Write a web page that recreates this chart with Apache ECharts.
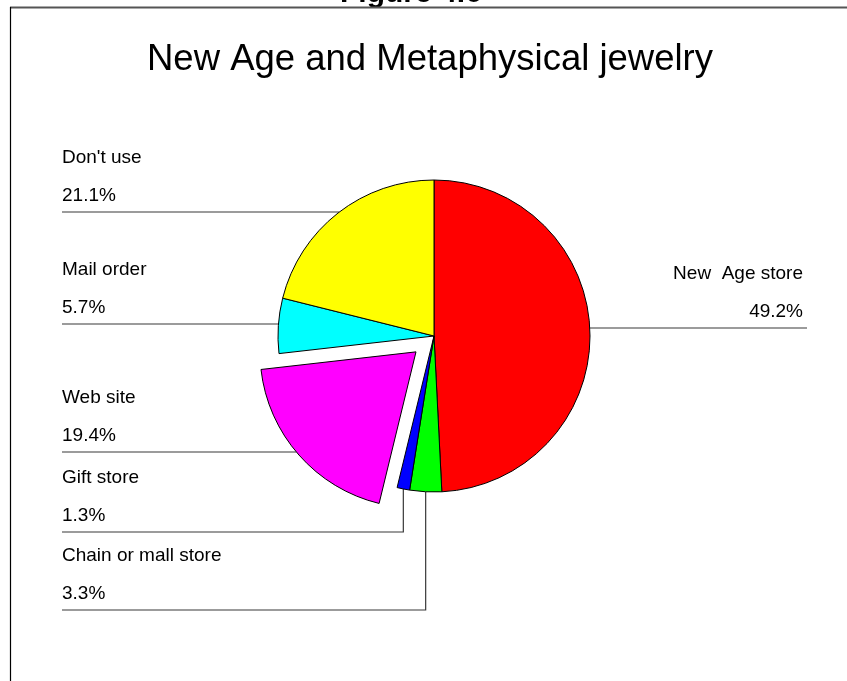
<!DOCTYPE html>
<html>
<head>
<meta charset="utf-8">
<script src="https://cdn.jsdelivr.net/npm/echarts@6/dist/echarts.min.js"></script>
<style>
  html, body { margin: 0; padding: 0; background: #ffffff; }
  #chart { width: 847px; height: 681px; }
</style>
</head>
<body>
<div id="chart"></div>
<script>
// Purchase channels, clockwise from 12 o'clock
const categories = ['New  Age store', 'Chain or mall store', 'Gift store', 'Web site', 'Mail order', "Don't use"];
const shares = [49.2, 3.3, 1.3, 19.4, 5.7, 21.1];
const sliceColors = ['#ff0000', '#00ff00', '#0000ff', '#ff00ff', '#00ffff', '#ffff00'];
const explodedName = 'Web site';

const figureCaption = 'Figure 4.6';
const chartTitle = 'New Age and Metaphysical jewelry';

// Pie geometry and label placement
const CX = 434, CY = 336, R = 156, EXPLODE = 24;
const LABEL_LEFT = 62, LABEL_RIGHT = 803, LINE_RIGHT = 807;
const FONT = '"Liberation Sans", Arial, Helvetica, sans-serif';

// underline height of each label and how its leader reaches the slice
const labelSpec = {
  'New  Age store':      { lineY: 328, side: 'right' },
  'Chain or mall store': { lineY: 610, side: 'left', drop: true },
  'Gift store':          { lineY: 532, side: 'left', drop: true },
  'Web site':            { lineY: 452, side: 'left' },
  'Mail order':          { lineY: 324, side: 'left' },
  "Don't use":           { lineY: 212, side: 'left' }
};

const total = shares.reduce((a, b) => a + b, 0);
const explodedIndex = categories.indexOf(explodedName);

function midAngle(i) {
  let before = 0;
  for (let k = 0; k < i; k++) before += shares[k];
  return (before + shares[i] / 2) / total * 2 * Math.PI;
}

// centre of the pulled-out slice
const explodedMid = midAngle(explodedIndex);
const EX_CX = CX + EXPLODE * Math.sin(explodedMid);
const EX_CY = CY - EXPLODE * Math.cos(explodedMid);

function sliceCentre(i) {
  return i === explodedIndex ? [EX_CX, EX_CY] : [CX, CY];
}

function layoutLabel(p) {
  const i = p.dataIndex;
  const spec = labelSpec[categories[i]];
  const c = sliceCentre(i);
  const mid = midAngle(i);
  let pts;
  if (spec.drop) {
    const mx = c[0] + R * Math.sin(mid);
    const my = c[1] - R * Math.cos(mid);
    pts = [[mx, my], [mx, spec.lineY], [LABEL_LEFT, spec.lineY]];
  } else {
    const dy = spec.lineY - c[1];
    const half = Math.sqrt(R * R - dy * dy);
    const ex = spec.side === 'right' ? c[0] + half : c[0] - half;
    const end = spec.side === 'right' ? LINE_RIGHT : LABEL_LEFT;
    pts = [[ex, spec.lineY], [(ex + end) / 2, spec.lineY], [end, spec.lineY]];
  }
  return {
    x: spec.side === 'right' ? LABEL_RIGHT : LABEL_LEFT,
    y: spec.lineY + 3.3,
    align: spec.side === 'right' ? 'right' : 'left',
    verticalAlign: 'bottom',
    labelLinePoints: pts
  };
}

const labelOpt = {
  show: true,
  position: 'outside',
  color: '#000000',
  fontSize: 19,
  lineHeight: 38.5,
  fontFamily: FONT,
  formatter: p => p.name + '\n' + p.value.toFixed(1) + '%'
};
const hiddenPart = {
  itemStyle: { color: 'rgba(0,0,0,0)', borderWidth: 0 },
  label: { show: false },
  labelLine: { show: false }
};

// main body: every slice except the pulled-out one
const bodyData = categories.map((name, i) => i === explodedIndex
  ? Object.assign({ name: name, value: shares[i] }, hiddenPart)
  : { name: name, value: shares[i], itemStyle: { color: sliceColors[i] } });

// pulled-out slice, drawn on its own shifted centre
const explodedData = categories.map((name, i) => i === explodedIndex
  ? { name: name, value: shares[i], itemStyle: { color: sliceColors[i] } }
  : Object.assign({ name: name, value: shares[i] }, hiddenPart));

function pieSeries(centre, data) {
  return {
    type: 'pie',
    center: centre,
    radius: R,
    startAngle: 90,
    clockwise: true,
    avoidLabelOverlap: false,
    silent: true,
    itemStyle: { borderColor: '#000000', borderWidth: 1 },
    label: labelOpt,
    labelLine: { show: true, lineStyle: { color: '#383838', width: 1.2 } },
    labelLayout: layoutLabel,
    data: data
  };
}

const chart = echarts.init(document.getElementById('chart'), null, { renderer: 'canvas' });

chart.setOption({
  animation: false,
  backgroundColor: '#ffffff',
  title: {
    text: chartTitle,
    left: 430,
    top: 41,
    textAlign: 'center',
    padding: 0,
    textStyle: { fontSize: 36.5, fontWeight: 'normal', color: '#000000', fontFamily: FONT }
  },
  graphic: [
    {
      type: 'text',
      left: 340,
      top: -21,
      style: { text: figureCaption, fill: '#000000', font: 'bold 30px ' + FONT }
    },
    {
      type: 'line',
      shape: { x1: 10, y1: 7.5, x2: 847, y2: 7.5 },
      style: { stroke: '#555555', lineWidth: 2 }
    },
    {
      type: 'line',
      shape: { x1: 10.5, y1: 7, x2: 10.5, y2: 681 },
      style: { stroke: '#000000', lineWidth: 1.2 }
    }
  ],
  series: [
    pieSeries([CX, CY], bodyData),
    pieSeries([EX_CX, EX_CY], explodedData)
  ]
});
</script>
</body>
</html>
